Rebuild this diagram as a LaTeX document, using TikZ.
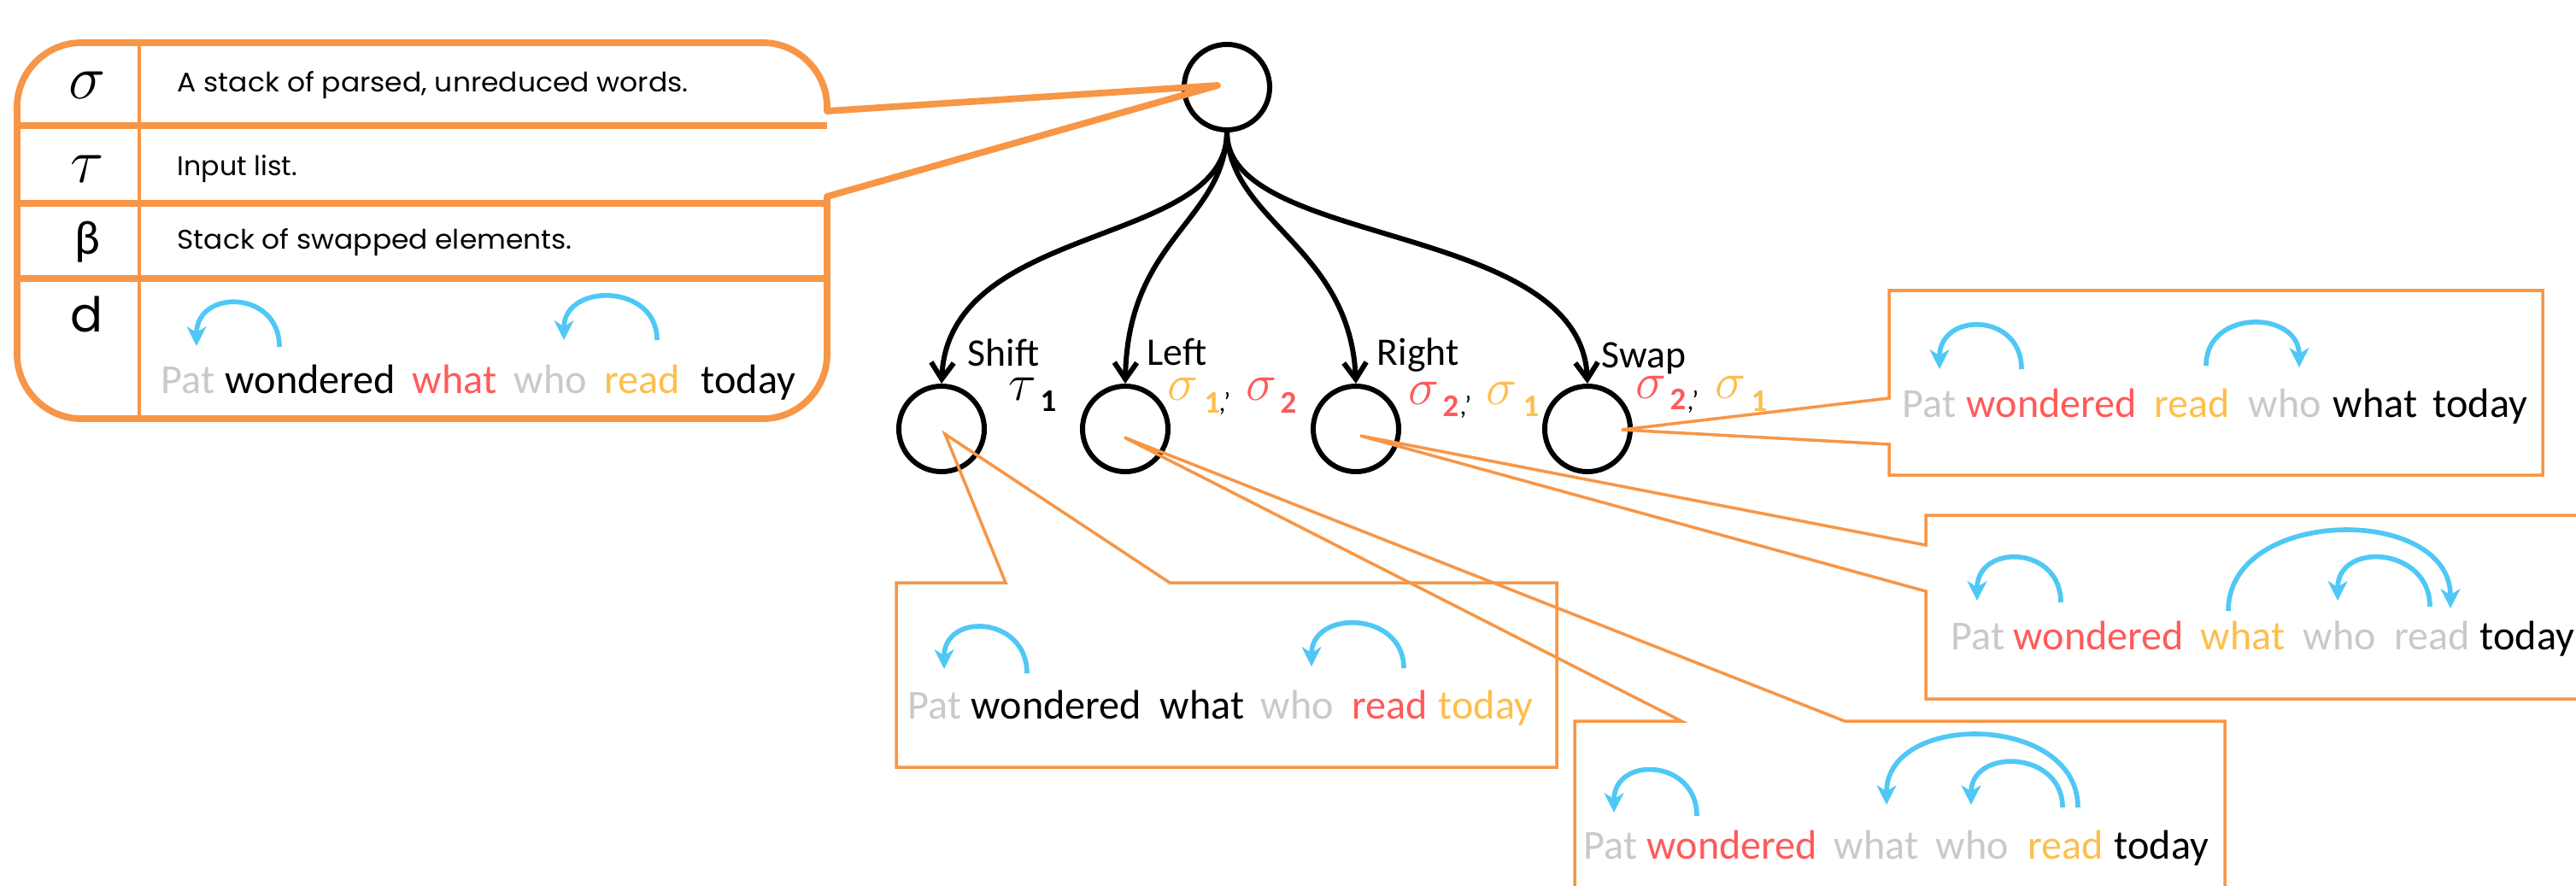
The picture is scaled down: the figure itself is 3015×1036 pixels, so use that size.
\documentclass[tikz,border=0pt]{standalone}
\usepackage{fontspec}
\usepackage{graphicx}
\usetikzlibrary{arrows.meta,calc,shadows,backgrounds}
\setmainfont{Carlito}
\newfontfamily\gothic{Poppins}
\newdimen\pxu \pxu=0.01cm
\definecolor{orng}{HTML}{F79646}
\definecolor{arcblue}{HTML}{4FC8F5}
\definecolor{wred}{HTML}{FF5A5A}
\definecolor{wyel}{HTML}{FDBF4C}
\definecolor{wgray}{HTML}{C9C9C9}
\tikzset{
  bgfill/.style={fill=white, drop shadow={opacity=0.22, shadow xshift=1.2pt, shadow yshift=-1.6pt}},
  tbline/.style={draw=orng, line width=2.2pt},
  colline/.style={draw=orng, line width=1.1pt},
  boxline/.style={draw=orng, line width=1pt},
  state/.style={circle, draw=black, line width=1.7pt, minimum size=1cm, inner sep=0pt},
  edge/.style={draw=black, line width=1.7pt, -{Straight Barb[length=5.5pt,width=7.5pt]}},
  wd/.style={inner sep=0pt, anchor=base west, font=\fontsize{13.7}{16}\selectfont},
  lab/.style={inner sep=0pt, anchor=base west, font=\fontsize{13}{15}\selectfont},
  gk/.style={inner sep=0pt, anchor=base west, font=\fontsize{16}{18}\selectfont},
  dg/.style={inner sep=0pt, anchor=base west, font=\fontsize{10.5}{12}\selectfont\bfseries},
  commalab/.style={inner sep=0pt, anchor=base west, font=\fontsize{9}{11}\selectfont},
  dep/.style={draw=arcblue, line width=1.6pt, -{Stealth[length=6.5pt,width=6.5pt,inset=2pt]}},
  sym/.style={inner sep=0pt, anchor=base},
  ttext/.style={inner sep=0pt, anchor=base west},
}
\begin{document}
\begin{tikzpicture}[x=0.01cm,y=-0.01cm]
\useasboundingbox (0,0) rectangle (3015,1036);
\clip (0,0) rectangle (3015,1036);
\fill[white] (0,0) rectangle (3015,1036);

% tree
\node[state] (root) at (1436,102) {};
\node[state] (c1) at (1102,502) {};
\node[state] (c2) at (1317,502) {};
\node[state] (c3) at (1587,502) {};
\node[state] (c4) at (1858,502) {};
\draw[edge] (root.south) .. controls +(0,135) and +(8,-190) .. (c1.north);
\draw[edge] (root.south) .. controls +(-4,105) and +(3,-170) .. (c2.north);
\draw[edge] (root.south) .. controls +(4,105) and +(-7,-160) .. (c3.north);
\draw[edge] (root.south) .. controls +(0,135) and +(-8,-190) .. (c4.north);

% callout shapes
\def\tablepath{(20,125) .. controls (20,84) and (54,50) .. (95,50) -- (893,50) .. controls (934,50) and (968,84) .. (968,125) -- (968,130) -- ($(root.center)+(-11,-2)$) -- (968,230) -- (968,415) .. controls (968,456) and (934,490) .. (893,490) -- (95,490) .. controls (54,490) and (20,456) .. (20,415) -- cycle}
\def\boxA{(1049,682) -- (1177,682) -- ($(c1.center)+(4,6)$) -- (1369,682) -- (1822,682) -- (1822,898) -- (1049,898) -- cycle}
\def\boxB{(1843,844) -- (1968,844) -- ($(c2.center)+(-1,10)$) -- (2159,844) -- (2604,844) -- (2604,1100) -- (1843,1100) -- cycle}
\def\boxC{(2254,603) -- (3100,603) -- (3100,818) -- (2254,818) -- (2254,692) -- ($(c3.center)+(5,8)$) -- (2254,638) -- cycle}
\def\boxD{(2211,340) -- (2976,340) -- (2976,556) -- (2211,556) -- (2211,520) -- ($(c4.center)+(40,1)$) -- (2211,466) -- cycle}

\begin{scope}[on background layer]
\path[bgfill] \tablepath;
\path[bgfill] \boxA;
\path[bgfill] \boxB;
\path[bgfill] \boxC;
\path[bgfill] \boxD;
\end{scope}

\draw[tbline, line join=round] \tablepath;
\draw[boxline] \boxA;
\draw[boxline] \boxB;
\draw[boxline] \boxC;
\draw[boxline] \boxD;

% table grid
\draw[tbline] (20,147) -- (968,147);
\draw[tbline] (20,238) -- (968,238);
\draw[tbline] (20,326) -- (968,326);
\draw[colline] (163,46) -- (163,494);

% table symbols and texts
\node[sym, font=\fontsize{20}{22}\selectfont] (sg) at (102,115) {$\sigma$};
\node[sym, font=\fontsize{20}{22}\selectfont] (ta) at (102,213) {$\tau$};
\node[sym, font=\fontsize{16}{18}\selectfont] (be) at (102,297) {β};
\node[sym, font=\gothic\fontsize{16}{18}\selectfont] (dd) at (102,388) {d};
\node[ttext] (tx1) at (207,107) {\resizebox{598\pxu}{24\pxu}{\gothic A stack of parsed, unreduced words.}};
\node[ttext] (tx2) at (207,205) {\resizebox{140\pxu}{24\pxu}{\gothic Input list.}};
\node[ttext] (tx3) at (207,291) {\resizebox{462\pxu}{24\pxu}{\gothic Stack of swapped elements.}};

% table sentence
\node[wd, text=wgray] (ta1) at (188,460) {Pat};
\node[wd] (ta2) at (263,460) {wondered};
\node[wd, text=wred] (ta3) at (482,460) {what};
\node[wd, text=wgray] (ta4) at (601,460) {who};
\node[wd, text=wyel] (ta5) at (707,460) {read};
\node[wd] (ta6) at (820,460) {today};
\draw[dep] ($(ta2.base west)+(64,-54)$) .. controls +(0,-67) and +(0,-67) .. ($(ta1.base west)+(42,-55)$);
\draw[dep] ($(ta5.base west)+(62,-62)$) .. controls +(0,-67) and +(0,-67) .. ($(ta4.base west)+(59,-62)$);

% labels of children
\node[lab] (lshift) at (1132,428) {Shift};
\node[gk] (lsh1) at (1180,468) {$\tau$};
\node[dg] (lsh2) at (1217,481) {1};

\node[lab] (lleft) at (1342,427) {Left};
\node[gk, text=wyel] (lle1) at (1366,468) {$\sigma$};
\node[dg, text=wyel] (lle2) at (1409,483) {1};
\node[commalab] (lle3) at (1426,481) {,'};
\node[gk, text=wred] (lle4) at (1458,468) {$\sigma$};
\node[dg, text=wred] (lle5) at (1498,483) {2};

\node[lab] (lright) at (1611,427) {Right};
\node[gk, text=wred] (lri1) at (1648,473) {$\sigma$};
\node[dg, text=wred] (lri2) at (1688,487) {2};
\node[commalab] (lri3) at (1708,485) {,'};
\node[gk, text=wyel] (lri4) at (1739,473) {$\sigma$};
\node[dg, text=wyel] (lri5) at (1782,487) {1};

\node[lab] (lswap) at (1874,430) {Swap};
\node[gk, text=wred] (lsw1) at (1914,466) {$\sigma$};
\node[dg, text=wred] (lsw2) at (1954,479) {2};
\node[commalab] (lsw3) at (1974,479) {,'};
\node[gk, text=wyel] (lsw4) at (2007,466) {$\sigma$};
\node[dg, text=wyel] (lsw5) at (2049,481) {1};

% box A (Shift)
\node[wd, text=wgray] (a1) at (1062,841) {Pat};
\node[wd] (a2) at (1136,841) {wondered};
\node[wd] (a3) at (1357,841) {what};
\node[wd, text=wgray] (a4) at (1475,841) {who};
\node[wd, text=wred] (a5) at (1582,841) {read};
\node[wd, text=wyel] (a6) at (1683,841) {today};
\draw[dep] ($(a2.base west)+(66,-53)$) .. controls +(0,-67) and +(0,-67) .. ($(a1.base west)+(43,-58)$);
\draw[dep] ($(a5.base west)+(61,-59)$) .. controls +(0,-67) and +(0,-67) .. ($(a4.base west)+(60,-61)$);

% box B (Left)
\node[wd, text=wgray] (b1) at (1853,1005) {Pat};
\node[wd, text=wred] (b2) at (1927,1005) {wondered};
\node[wd, text=wgray] (b3) at (2146,1005) {what};
\node[wd, text=wgray] (b4) at (2265,1005) {who};
\node[wd, text=wyel] (b5) at (2373,1005) {read};
\node[wd] (b6) at (2474,1005) {today};
\draw[dep] ($(b2.base west)+(59,-50)$) .. controls +(0,-67) and +(0,-67) .. ($(b1.base west)+(36,-54)$);
\draw[dep] ($(b5.base west)+(59,-60)$) .. controls +(0,-110) and +(0,-110) .. ($(b3.base west)+(62,-63)$);
\draw[dep] ($(b5.base west)+(41,-60)$) .. controls +(0,-67) and +(0,-67) .. ($(b4.base west)+(42,-63)$);

% box C (Right)
\node[wd, text=wgray] (r1) at (2283,760) {Pat};
\node[wd, text=wred] (r2) at (2356,760) {wondered};
\node[wd, text=wyel] (r3) at (2575,760) {what};
\node[wd, text=wgray] (r4) at (2695,760) {who};
\node[wd, text=wgray] (r5) at (2802,760) {read};
\node[wd] (r6) at (2902,760) {today};
\draw[dep] ($(r2.base west)+(56,-55)$) .. controls +(0,-67) and +(0,-67) .. ($(r1.base west)+(31,-57)$);
\draw[dep] ($(r3.base west)+(33,-45)$) .. controls +(0,-122) and +(0,-122) .. ($(r5.base west)+(66,-48)$);
\draw[dep] ($(r5.base west)+(42,-50)$) .. controls +(0,-70) and +(0,-70) .. ($(r4.base west)+(41,-57)$);

% box D (Swap)
\node[wd, text=wgray] (s1) at (2226,488) {Pat};
\node[wd, text=wred] (s2) at (2301,488) {wondered};
\node[wd, text=wyel] (s3) at (2521,488) {read};
\node[wd, text=wgray] (s4) at (2631,488) {who};
\node[wd] (s5) at (2730,488) {what};
\node[wd] (s6) at (2847,488) {today};
\draw[dep] ($(s2.base west)+(65,-56)$) .. controls +(0,-67) and +(0,-67) .. ($(s1.base west)+(44,-56)$);
\draw[dep] ($(s3.base west)+(61,-60)$) .. controls +(0,-67) and +(0,-67) .. ($(s4.base west)+(60,-58)$);
\end{tikzpicture}
\end{document}
